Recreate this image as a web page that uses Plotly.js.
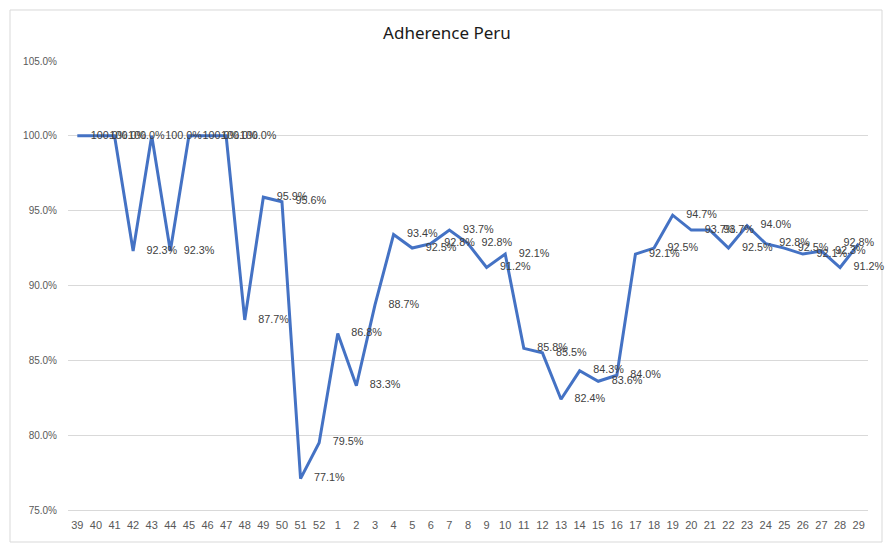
<!DOCTYPE html>
<html>
<head>
<meta charset="utf-8">
<script src="https://cdn.plot.ly/plotly-3.0.1.min.js"></script>
<style>
html,body{margin:0;padding:0;background:#fff;}
#chart{width:894px;height:554px;}
</style>
</head>
<body>
<div id="chart"></div>
<script>
const weeks = ["39","40","41","42","43","44","45","46","47","48","49","50","51","52",
  "1","2","3","4","5","6","7","8","9","10","11","12","13","14","15","16","17","18","19","20",
  "21","22","23","24","25","26","27","28","29"];
const adherence = [100.0,100.0,100.0,92.3,100.0,92.3,100.0,100.0,100.0,87.7,95.9,95.6,77.1,79.5,
  86.8,83.3,88.7,93.4,92.5,92.8,93.7,92.8,91.2,92.1,85.8,85.5,82.4,84.3,83.6,84.0,92.1,92.5,94.7,93.7,
  93.7,92.5,94.0,92.8,92.5,92.1,92.3,91.2,92.8];
const yTicks = [75,80,85,90,95,100,105];

const labelPositions = adherence.map((v, i) => i === adherence.length - 1 ? 'middle center' : 'middle right');

const trace = {
  x: weeks,
  y: adherence,
  type: 'scatter',
  mode: 'lines+markers+text',
  line: {color: '#4472C4', width: 3},
  marker: {size: 20, color: 'rgba(0,0,0,0)', line: {width: 0}},
  text: adherence.map(v => v.toFixed(1) + '%'),
  textposition: labelPositions,
  textfont: {family: 'Liberation Sans, Arial, sans-serif', size: 10.8, color: '#404040'},
  cliponaxis: false,
  hoverinfo: 'x+y'
};

const layout = {
  width: 894, height: 554,
  margin: {l: 68, r: 26, t: 61, b: 44},
  paper_bgcolor: '#fff', plot_bgcolor: '#fff',
  showlegend: false,
  title: {text: 'Adherence Peru', x: 0.5, xanchor: 'center', y: 0.94, yanchor: 'middle',
    font: {family: 'Noto Sans, Liberation Sans, sans-serif', size: 17, color: '#1a1a1a'}},
  xaxis: {
    type: 'category',
    range: [-0.5, weeks.length - 0.5],
    tickvals: weeks, ticktext: weeks,
    showgrid: false, zeroline: false,
    showline: true, linecolor: '#d9d9d9', linewidth: 1,
    ticks: '', ticklabelstandoff: 5,
    tickfont: {family: 'Liberation Sans Narrow, Liberation Sans, sans-serif', size: 11, color: '#595959'},
    fixedrange: true
  },
  yaxis: {
    range: [75, 105],
    tickvals: yTicks,
    ticktext: yTicks.map(v => v.toFixed(1) + '%'),
    showgrid: true, gridcolor: '#d9d9d9', gridwidth: 1,
    zeroline: false, showline: false, ticks: '',
    ticklabelstandoff: 10,
    tickfont: {family: 'Liberation Sans, Arial, sans-serif', size: 10, color: '#595959'},
    fixedrange: true
  },
  shapes: [{
    type: 'rect', xref: 'paper', yref: 'paper', layer: 'below',
    x0: -0.0725, x1: 1.0175, y0: -0.0713, y1: 1.1136,
    line: {color: '#d9d9d9', width: 1}
  }]
};

Plotly.newPlot('chart', [trace], layout, {displayModeBar: false, staticPlot: true});
</script>
</body>
</html>
